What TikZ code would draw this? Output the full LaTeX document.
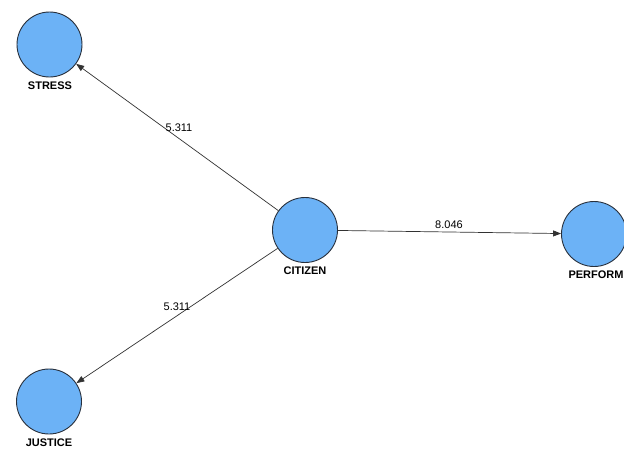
\documentclass[tikz,border=0pt]{standalone}
\usepackage{fontspec}
\setmainfont{Liberation Sans}
\usetikzlibrary{arrows.meta}
\definecolor{nodefill}{RGB}{108,178,246}
\definecolor{nodeline}{RGB}{40,48,60}
\definecolor{edgeline}{RGB}{50,50,50}
\begin{document}
\begin{tikzpicture}[x=1pt,y=-1pt,
  latent/.style={circle,draw=nodeline,line width=0.9pt,fill=nodefill,minimum size=65pt,inner sep=0pt},
  nlabel/.style={font=\fontsize{11}{12}\selectfont\bfseries,text=black,inner sep=0pt},
  elabel/.style={font=\fontsize{11}{12}\selectfont,text=black,inner sep=0pt},
  path/.style={draw=edgeline,line width=0.7pt,-{Triangle[length=8pt,width=6pt]}}]
\useasboundingbox (0,0) rectangle (624,450);
\clip (0,0) rectangle (624,450);
\fill[white] (0,0) rectangle (624,450);
\node[latent] (stress) at (49.5,44.5) {};
\node[latent] (citizen) at (305,230) {};
\node[latent] (perform) at (594,234) {};
\node[latent] (justice) at (49,401.5) {};
\node[nlabel] (lstress) at (50,85.5) {STRESS};
\node[nlabel] (lcitizen) at (305,271) {CITIZEN};
\node[nlabel] (lperform) at (596,275) {PERFORM};
\node[nlabel] (ljustice) at (49,443) {JUSTICE};
\draw[path] (citizen) -- (stress);
\draw[path] (citizen) -- (justice);
\draw[path] (citizen) -- (perform);
\node[elabel] (e1) at (179,128) {5.311};
\node[elabel] (e2) at (177,307) {5.311};
\node[elabel] (e3) at (449,225) {8.046};
\end{tikzpicture}
\end{document}
